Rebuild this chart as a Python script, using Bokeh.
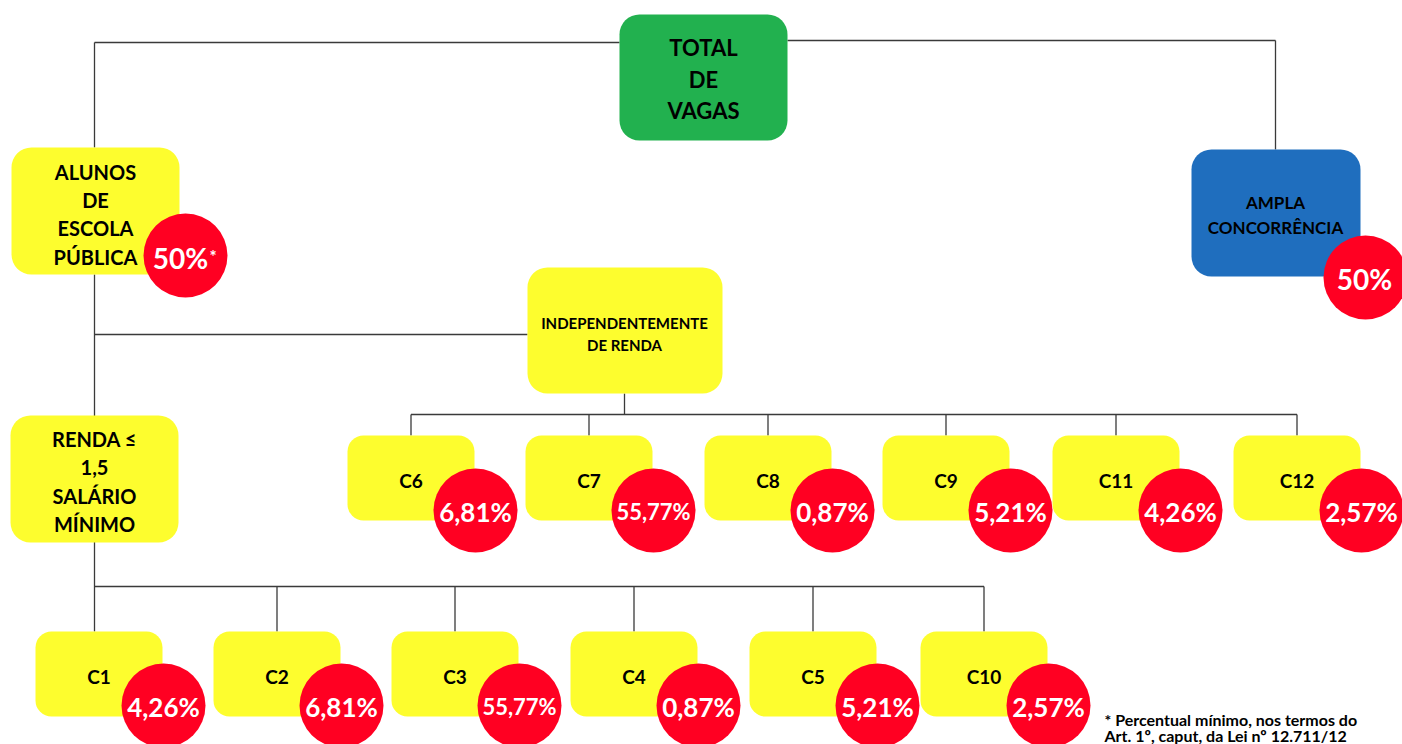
from bokeh.plotting import figure
from bokeh.models import Range1d
from bokeh.core.properties import value
from bokeh.embed import file_html
from bokeh.resources import INLINE

# ---------------- data ----------------
top_label = ["TOTAL", "DE", "VAGAS"]
left_label = ["ALUNOS", "DE", "ESCOLA", "PÚBLICA"]
left_pct = "50%"
right_label = ["AMPLA", "CONCORRÊNCIA"]
right_pct = "50%"
indep_label = ["INDEPENDENTEMENTE", "DE RENDA"]
renda_label = ["RENDA ≤", "1,5", "SALÁRIO", "MÍNIMO"]
indep_cats = ["C6", "C7", "C8", "C9", "C11", "C12"]
indep_pct = ["6,81%", "55,77%", "0,87%", "5,21%", "4,26%", "2,57%"]
renda_cats = ["C1", "C2", "C3", "C4", "C5", "C10"]
renda_pct = ["4,26%", "6,81%", "55,77%", "0,87%", "5,21%", "2,57%"]
footnote_lines = ["* Percentual mínimo, nos termos do",
                  "Art. 1º, caput, da Lei nº 12.711/12"]

# ---------------- style / layout ----------------
FONT = value("Lato")
GREEN = "#22B14F"
YELLOW = "#FDFD2E"
BLUE = "#1F6EBE"
RED = "#FF0022"
LINE = "#3a3a3a"

W, H = 1402, 744
p = figure(width=W, height=H, output_backend="svg", toolbar_location=None,
           x_range=Range1d(0, W), y_range=Range1d(H, 0),
           min_border=0, outline_line_color=None)
p.axis.visible = False
p.grid.visible = False
p.background_fill_color = "white"

# box geometry (left, right, top, bottom) in picture pixels
box_total = (619, 787, 14, 140)
box_left = (11, 179, 147, 274)
box_right = (1191, 1360, 149, 276)
box_indep = (527, 722, 267, 393)
box_renda = (10, 178, 415, 542)
up_lefts = [347, 525, 704, 882, 1052, 1233]
lo_lefts = [35, 213, 391, 570, 749, 920]
BW = 127
up_top, up_bot = 435, 520
lo_top, lo_bot = 631, 716

# ---------------- connector lines ----------------
segs = []
cx_left = 94
cx_right = 1275
segs.append((box_total[0], 42, cx_left, 42))
segs.append((cx_left, 42, cx_left, box_left[2]))
segs.append((box_total[1], 40, cx_right, 40))
segs.append((cx_right, 40, cx_right, box_right[2]))
segs.append((cx_left, box_left[3], cx_left, lo_top))
segs.append((cx_left, 334, box_indep[0], 334))
indep_cx = 624
segs.append((indep_cx, box_indep[3], indep_cx, 414))
up_centers = [l + BW / 2 for l in up_lefts]
segs.append((up_centers[0], 414, up_centers[-1], 414))
for c in up_centers:
    segs.append((c, 414, c, up_top))
lo_centers = [l + BW / 2 for l in lo_lefts]
drop_x = [cx_left] + lo_centers[1:]
segs.append((cx_left, 586, drop_x[-1], 586))
for c in drop_x[1:]:
    segs.append((c, 586, c, lo_top))

p.segment(x0=[s[0] for s in segs], y0=[s[1] for s in segs],
          x1=[s[2] for s in segs], y1=[s[3] for s in segs],
          line_color=LINE, line_width=1.3)

# ---------------- boxes ----------------
def boxes(list_boxes, color, radius):
    p.quad(left=[b[0] for b in list_boxes], right=[b[1] for b in list_boxes],
           top=[b[2] for b in list_boxes], bottom=[b[3] for b in list_boxes],
           fill_color=color, line_color=None, border_radius=radius)

boxes([box_total], GREEN, 20)
boxes([box_left, box_indep, box_renda], YELLOW, 20)
boxes([box_right], BLUE, 20)
boxes([(l, l + BW, up_top, up_bot) for l in up_lefts], YELLOW, 16)
boxes([(l, l + BW, lo_top, lo_bot) for l in lo_lefts], YELLOW, 16)

def label_lines(lines, cx, ys, size, color="black"):
    p.text(x=[cx] * len(lines), y=ys, text=lines, text_font=FONT,
           text_font_style="bold", text_font_size=f"{size}px",
           text_color=color, text_align="center", text_baseline="middle")

label_lines(top_label, 703, [47, 79, 110], 22)
label_lines(left_label, 95, [171, 199, 227, 256], 20)
label_lines(right_label, 1275, [202, 227], 17)
label_lines(indep_label, 624, [322, 344], 15)
label_lines(renda_label, 94, [438, 467, 495, 523], 20)

# ---------------- category boxes labels ----------------
p.text(x=up_centers, y=[(up_top + up_bot) / 2 + 2] * 6, text=indep_cats,
       text_font=FONT, text_font_style="bold", text_font_size="19px",
       text_color="black", text_align="center", text_baseline="middle")
p.text(x=lo_centers, y=[(lo_top + lo_bot) / 2 + 2] * 6, text=renda_cats,
       text_font=FONT, text_font_style="bold", text_font_size="19px",
       text_color="black", text_align="center", text_baseline="middle")

# ---------------- red circles ----------------
R = 42
circ_x = [185, 1365] + [l + BW + 1 for l in up_lefts] + [l + BW + 1 for l in lo_lefts]
circ_y = [255, 277] + [510] * 6 + [705] * 6
p.circle(x=circ_x, y=circ_y, radius=R, fill_color=RED, line_color=None)

def pct_text(xs, ys, texts):
    for x, y, t in zip(xs, ys, texts):
        size = 22 if len(t) > 5 else 26
        p.text(x=[x], y=[y + 1], text=[t], text_font=FONT, text_font_style="bold",
               text_font_size=f"{size}px", text_color="white",
               text_align="center", text_baseline="middle")

pct_text([l + BW + 1 for l in up_lefts], [510] * 6, indep_pct)
pct_text([l + BW + 1 for l in lo_lefts], [705] * 6, renda_pct)

p.text(x=[180], y=[257], text=[left_pct], text_font=FONT, text_font_style="bold",
       text_font_size="28px", text_color="white", text_align="center", text_baseline="middle")
p.text(x=[209], y=[256], text=["*"], text_font=FONT, text_font_style="bold",
       text_font_size="17px", text_color="white", text_align="left", text_baseline="middle")
p.text(x=[1364], y=[278], text=[right_pct], text_font=FONT, text_font_style="bold",
       text_font_size="28px", text_color="white", text_align="center", text_baseline="middle")

# ---------------- footnote ----------------
p.text(x=[1104, 1104], y=[719, 735], text=footnote_lines, text_font=FONT,
       text_font_style="bold", text_font_size="16px", text_color="black",
       text_align="left", text_baseline="middle")

open("out.html", "w").write(file_html(p, INLINE))
